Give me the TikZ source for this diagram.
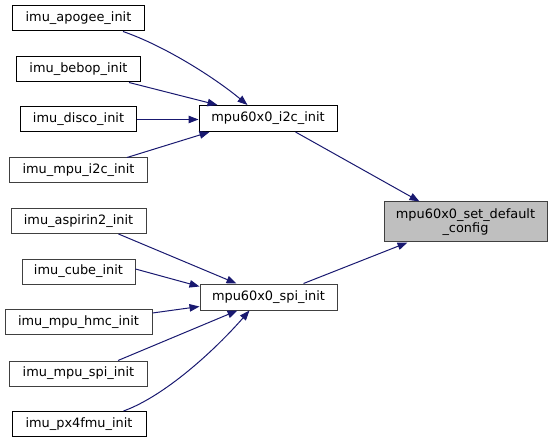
\documentclass[tikz,border=0pt]{standalone}
\usepackage{fontspec}
\setmainfont{DejaVu Sans}
\usetikzlibrary{arrows.meta}
\definecolor{edgeblue}{HTML}{191970}
\definecolor{rootfill}{HTML}{BFBFBF}
\definecolor{darkborder}{HTML}{404040}
\tikzset{
  fn/.style={draw=black, fill=white, line width=1pt, rectangle, inner sep=0pt,
    minimum height=25pt, font=\fontsize{12.9}{14.5}\selectfont},
  fngrey/.style={fn, draw=darkborder},
  rootfn/.style={fn, draw=darkborder, fill=rootfill, minimum height=40pt, align=center},
  call/.style={draw=edgeblue, line width=1pt, -{Triangle[length=10pt,width=7.5pt]}, fill=none}
}
\begin{document}
\begin{tikzpicture}[x=1pt,y=-1pt]
\useasboundingbox (0,0) rectangle (553,443);
% left column
\node[fn, minimum width=132pt] (apogee) at (78.5,18.5) {imu\_apogee\_init};
\node[fn, minimum width=124pt] (bebop) at (78.5,69.5) {imu\_bebop\_init};
\node[fn, minimum width=116pt] (disco) at (78.5,119.5) {imu\_disco\_init};
\node[fngrey, minimum width=138pt] (mi2c) at (78.5,170.5) {imu\_mpu\_i2c\_init};
\node[fngrey, minimum width=135pt] (asp) at (78.5,221) {imu\_aspirin2\_init};
\node[fngrey, minimum width=113pt] (cube) at (78.5,271.5) {imu\_cube\_init};
\node[fngrey, minimum width=147pt] (hmc) at (78.5,322) {imu\_mpu\_hmc\_init};
\node[fngrey, minimum width=138pt] (mspi) at (78.5,373.5) {imu\_mpu\_spi\_init};
\node[fn, minimum width=134pt] (px) at (79,424) {imu\_px4fmu\_init};
% middle column
\node[fn, minimum width=138pt, minimum height=26pt] (m1) at (268,118.5) {mpu60x0\_i2c\_init};
\node[fngrey, minimum width=137pt, minimum height=26pt] (m2) at (268.5,297) {mpu60x0\_spi\_init};
% root
\node[rootfn, minimum width=163pt] (d) at (465.5,222) {mpu60x0\_set\_default\\\_config};
% edges to i2c
\draw[call] ([xshift=-22pt]apogee.south east) .. controls (165,46) and (215,78) .. ([xshift=49pt]m1.north west);
\draw[call] ([xshift=-12pt]bebop.south east) -- ([xshift=19pt]m1.north west);
\draw[call] (disco.east) -- (disco.east -| m1.west);
\draw[call] ([xshift=-21pt]mi2c.north east) -- ([xshift=11pt]m1.south west);
% edges to spi
\draw[call] ([xshift=-28pt]asp.south east) -- ([xshift=37pt]m2.north west);
\draw[call] ([yshift=2.5pt]cube.east) -- ([yshift=-3pt]m2.north west);
\draw[call] ([yshift=-4pt]hmc.north east) -- ([yshift=4pt]m2.south west);
\draw[call] ([xshift=-30pt]mspi.north east) -- ([xshift=38pt]m2.south west);
\draw[call] ([xshift=-23pt]px.north east) .. controls (165,396) and (215,350) .. ([xshift=50pt]m2.south west);
% edges to root
\draw[call] ([xshift=-42pt]m1.south east) -- ([xshift=36pt]d.north west);
\draw[call] ([xshift=-34pt]m2.north east) -- ([xshift=24pt]d.south west);
\end{tikzpicture}
\end{document}
